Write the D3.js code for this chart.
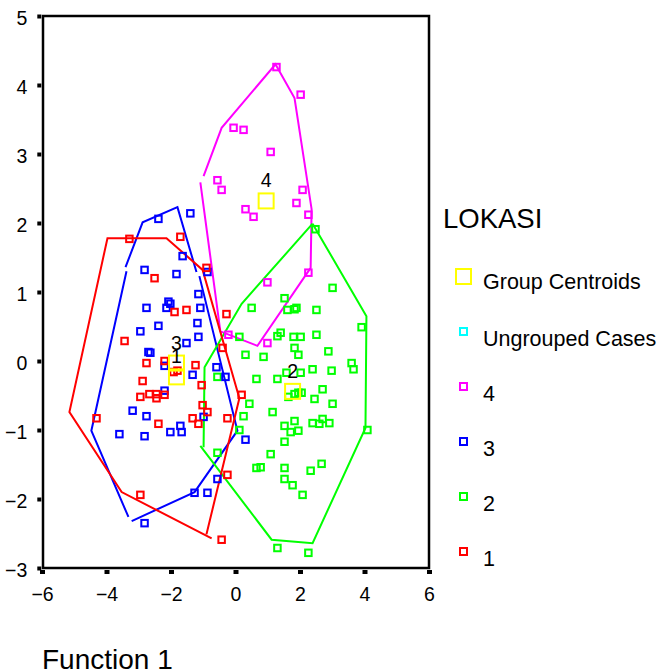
<!DOCTYPE html>
<html><head><meta charset="utf-8">
<script src="https://cdn.jsdelivr.net/npm/d3@7"></script>
<style>body{margin:0;background:#fff} text{font-family:"Liberation Sans",Arial,sans-serif}</style>
</head><body><svg id="c" width="662" height="671"></svg>
<script>
// ---- data ----
const xTicks = [-6, -4, -2, 0, 2, 4, 6];
const yTicks = [-3, -2, -1, 0, 1, 2, 3, 4, 5];
const xLabel = "Function 1";
const legendTitle = "LOKASI";
const groupNames = ["1", "2", "3", "4"];
const groupColors = ["#ff0000", "#00ff00", "#0000ff", "#ff00ff"];

const group1 = [[-3.29,1.77],[-1.71,1.80],[-0.90,1.35],[-2.51,1.20],[-1.89,0.71],[-1.52,0.74],[-0.28,0.68],
  [-3.44,0.29],[-0.40,0.19],[-2.76,-0.03],[-2.20,0.00],[-1.24,-0.06],[-1.92,-0.16],[-1.80,-0.14],[-2.88,-0.29],
  [-1.05,-0.35],[-2.95,-0.52],[-2.67,-0.48],[-2.45,-0.48],[-2.45,-0.54],[-2.20,-0.49],[0.19,-0.49],[-1.02,-0.64],
  [-0.87,-0.74],[-1.33,-0.83],[-0.25,-0.83],[-4.31,-0.83],[-1.15,-0.91],[-2.39,-0.91],[-2.95,-1.94],[-0.25,-1.65],[-0.43,-2.59]];
const group2 = [[2.48,1.91],[3.01,1.06],[1.52,0.91],[0.50,0.77],[1.61,0.74],[1.83,0.75],[1.89,0.77],[2.51,0.74],
  [3.91,0.49],[0.12,0.35],[1.40,0.41],[1.30,0.36],[1.80,0.35],[2.02,0.35],[2.51,0.38],[0.31,0.09],[0.87,0.06],
  [1.83,0.19],[1.95,0.09],[2.88,0.14],[3.60,-0.03],[3.66,-0.12],[2.39,-0.12],[2.98,-0.14],[2.02,-0.17],[1.58,-0.17],
  [1.30,-0.26],[0.65,-0.26],[2.70,-0.41],[-0.56,-0.23],[1.64,-0.52],[1.83,-0.48],[1.95,-0.46],[2.05,-0.46],
  [2.45,-0.55],[3.01,-0.62],[0.43,-0.62],[0.25,-0.80],[1.15,-0.74],[1.83,-0.87],[1.52,-0.94],[1.71,-1.03],
  [1.95,-1.01],[2.39,-0.90],[2.60,-0.91],[2.70,-0.84],[2.91,-0.90],[0.12,-1.00],[1.52,-1.17],[4.09,-1.00],
  [1.09,-1.35],[0.65,-1.55],[0.78,-1.54],[1.52,-1.55],[2.67,-1.49],[2.33,-1.59],[1.52,-1.71],[1.77,-1.80],
  [2.08,-1.94],[-0.56,-1.33],[1.30,-2.71],[2.26,-2.78]];
const group3 = [[-2.39,2.06],[-1.40,2.14],[-1.64,1.52],[-2.82,1.32],[-1.83,1.26],[-0.87,1.29],[-1.15,0.97],
  [-2.08,0.86],[-2.02,0.83],[-2.76,0.77],[-2.14,0.77],[-1.09,0.77],[-2.39,0.51],[-2.95,0.43],[-1.18,0.55],
  [-1.15,0.35],[-1.52,0.26],[-2.70,0.13],[-2.64,0.12],[-0.59,-0.09],[-1.33,-0.20],[-2.20,-0.07],[-2.20,-0.43],
  [-0.31,-0.23],[-3.19,-0.72],[-2.76,-0.80],[-0.99,-0.81],[-1.71,-0.94],[-2.02,-1.03],[-1.67,-1.03],[-3.60,-1.06],
  [-2.82,-1.09],[0.31,-1.14],[-0.56,-1.71],[-1.27,-1.91],[-0.87,-1.91],[-2.82,-2.35]];
const group4 = [[1.27,4.26],[2.02,3.86],[-0.06,3.38],[0.25,3.35],[1.09,3.03],[-0.56,2.62],[-0.43,2.48],[2.08,2.48],
  [1.89,2.29],[0.31,2.20],[0.56,2.09],[2.26,2.12],[2.26,1.28],[0.99,1.14],[-0.22,0.38],[0.99,0.26]];
const centroids = [[-1.83,-0.23],[1.77,-0.44],[-1.83,-0.03],[0.95,2.32]];

// outline strokes drawn around each group (pieces as seen)
const hull1 = [[[-0.74,-2.57],[-3.53,-1.90],[-5.15,-0.74],[-3.97,1.78],[-2.14,1.78],[-1.02,1.32],[0.12,-0.54],[-0.90,-2.51]]];
const hull2 = [[[2.39,1.99],[0.19,0.83],[-0.96,-0.09],[-0.99,-1.25]],
               [[-1.09,-1.23],[1.12,-2.59],[2.39,-2.64],[4.03,-0.97],[4.06,0.65],[2.39,1.99]]];
const hull3 = [[[-3.38,1.30],[-4.47,-1.01],[-3.32,-2.26]],
               [[-3.22,-2.32],[-1.27,-1.90],[0.06,-1.01],[-1.12,1.23]],
               [[-1.21,1.29],[-1.80,2.23],[-2.88,2.01],[-3.41,1.36]]];
const hull4 = [[[-0.99,2.68],[-0.43,3.38],[1.24,4.30],[1.83,3.81],[2.36,2.20],[2.33,1.35],[0.68,0.22],[-0.47,0.43],[-1.09,2.59]]];

// ---- drawing ----
const svg = d3.select("#c");
const x = d3.scaleLinear().domain([-6, 6]).range([42, 429]);
const y = d3.scaleLinear().domain([-3, 5]).range([568, 16]);

const groups = [group1, group2, group3, group4];
const hulls = [hull1, hull2, hull3, hull4];
const line = d3.line().x(d => x(d[0])).y(d => y(d[1]));

// hull outlines
[3, 2, 1, 0].forEach(i => {
  svg.append("g").selectAll("path").data(hulls[i]).join("path")
    .attr("d", line).attr("fill", "none").attr("stroke", groupColors[i]).attr("stroke-width", 2);
});

// points
const ms = 6.5;
[3, 1, 2, 0].forEach(i => {
  svg.append("g").selectAll("rect").data(groups[i]).join("rect")
    .attr("x", d => x(d[0]) - ms / 2).attr("y", d => y(d[1]) - ms / 2)
    .attr("width", ms).attr("height", ms)
    .attr("fill", "none").attr("stroke", groupColors[i]).attr("stroke-width", 2);
});

// centroids
const cs = 15;
svg.append("g").selectAll("rect").data(centroids).join("rect")
  .attr("x", d => x(d[0]) - cs / 2).attr("y", d => y(d[1]) - cs / 2)
  .attr("width", cs).attr("height", cs)
  .attr("fill", "none").attr("stroke", "#ffff00").attr("stroke-width", 2);
svg.append("g").selectAll("text").data(centroids).join("text")
  .attr("x", d => x(d[0])).attr("y", d => y(d[1]) - 13.5)
  .attr("text-anchor", "middle").attr("font-size", 19.5).attr("fill", "#000")
  .text((d, i) => groupNames[i]);

// frame
svg.append("rect").attr("x", 43).attr("y", 16).attr("width", 386).attr("height", 552)
  .attr("fill", "none").attr("stroke", "#000").attr("stroke-width", 2.5);

// axes
const ax = svg.append("g").attr("transform", "translate(41.3,0)")
  .call(d3.axisLeft(y).tickValues(yTicks).tickFormat(d3.format("d")).tickSize(4).tickSizeOuter(0).tickPadding(10));
ax.select(".domain").remove();
ax.selectAll(".tick line").attr("stroke", "#000").attr("stroke-width", 4);
ax.selectAll(".tick text").attr("font-size", 19.5).attr("font-family", "Liberation Sans, Arial, sans-serif")
  .attr("fill", "#000").attr("dy", "0.42em");

const bx = svg.append("g").attr("transform", "translate(0,570)")
  .call(d3.axisBottom(x).tickValues(xTicks).tickFormat(d3.format("d")).tickSize(4).tickSizeOuter(0).tickPadding(13));
bx.select(".domain").remove();
bx.selectAll(".tick line").attr("stroke", "#000").attr("stroke-width", 5);
bx.selectAll(".tick text").attr("font-size", 19.5).attr("font-family", "Liberation Sans, Arial, sans-serif").attr("fill", "#000");

// x title
svg.append("text").attr("x", 42).attr("y", 669).attr("font-size", 28).attr("fill", "#000").text(xLabel);

// legend
svg.append("text").attr("x", 443).attr("y", 228).attr("font-size", 27.5).attr("fill", "#000").text(legendTitle);
const legendItems = [
  {label: "Group Centroids", color: "#ffff00", size: 15},
  {label: "Ungrouped Cases", color: "#00ffff", size: 7},
  {label: groupNames[3], color: groupColors[3], size: 7},
  {label: groupNames[2], color: groupColors[2], size: 7},
  {label: groupNames[1], color: groupColors[1], size: 7},
  {label: groupNames[0], color: groupColors[0], size: 7}
];
const lg = svg.append("g");
legendItems.forEach((it, i) => {
  const cy = 276.5 + i * 55;
  lg.append("rect").attr("x", 463.5 - it.size / 2).attr("y", cy - it.size / 2)
    .attr("width", it.size).attr("height", it.size)
    .attr("fill", "none").attr("stroke", it.color).attr("stroke-width", 2);
  lg.append("text").attr("x", 483).attr("y", cy + (i === 0 ? 12.5 : 14.5))
    .attr("font-size", 21.5).attr("fill", "#000").text(it.label);
});
</script></body></html>
